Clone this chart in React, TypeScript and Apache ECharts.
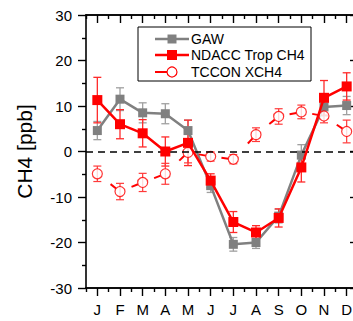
import React, { useEffect, useRef } from 'react';
import * as echarts from 'echarts';

const months = ['J', 'F', 'M', 'A', 'M', 'J', 'J', 'A', 'S', 'O', 'N', 'D'];
const yTicks = [-30, -20, -10, 0, 10, 20, 30];

const gaw = [4.6, 11.5, 8.5, 8.3, 4.6, -7.5, -20.4, -20.0, -14.2, -0.8, 9.8, 10.1];
const gawErr = [2.0, 2.5, 2.2, 2.2, 2.3, 1.5, 1.5, 1.3, 1.5, 2.3, 2.0, 2.0];

const ndacc = [11.3, 6.0, 4.0, 0.0, 1.9, -6.4, -15.5, -17.8, -14.6, -3.5, 11.8, 14.3];
const ndaccErr = [5.0, 3.2, 3.0, 3.2, 5.0, 1.5, 2.3, 1.5, 2.0, 3.2, 3.8, 3.0];

const tccon = [-4.9, -8.8, -6.8, -4.9, -0.2, -1.1, -1.7, 3.7, 7.7, 8.7, 7.8, 4.4];
const tcconErr = [1.7, 1.8, 2.0, 2.3, 2.3, 1.0, 1.0, 1.5, 1.7, 1.5, 1.5, 2.5];

const seriesNames = ['GAW', 'NDACC Trop CH4', 'TCCON XCH4'];

const FONT = "'Liberation Sans', Arial, Helvetica, sans-serif";
const GRAY = '#808080';
const RED = '#ff0000';

export default function App() {
  const ref = useRef<HTMLDivElement>(null);
  useEffect(() => {
    const chart = echarts.init(ref.current as HTMLDivElement, null, { renderer: 'svg' });

    const errSeries = (vals: number[], errs: number[], color: string, width: number, z: number) => ({
      type: 'custom',
      z,
      silent: true,
      xAxisIndex: 0,
      yAxisIndex: 0,
      data: vals.map((v, i) => [i, v, errs[i]]),
      renderItem: (params: any, api: any) => {
        const x = api.value(0);
        const y = api.value(1);
        const e = api.value(2);
        const t = api.coord([x, y + e]);
        const b = api.coord([x, y - e]);
        const hw = 4;
        const style = { stroke: color, lineWidth: width };
        return {
          type: 'group',
          children: [
            { type: 'line', shape: { x1: t[0], y1: t[1], x2: b[0], y2: b[1] }, style },
            { type: 'line', shape: { x1: t[0] - hw, y1: t[1], x2: t[0] + hw, y2: t[1] }, style },
            { type: 'line', shape: { x1: b[0] - hw, y1: b[1], x2: b[0] + hw, y2: b[1] }, style },
          ],
        };
      },
    });

    const tailSeries = {
      type: 'custom',
      z: 4,
      silent: true,
      xAxisIndex: 0,
      yAxisIndex: 0,
      data: tccon.slice(1).map((v, i) => [i + 1, v, tccon[i]]),
      renderItem: (params: any, api: any) => {
        const x = api.value(0);
        const p = api.coord([x, api.value(1)]);
        const q = api.coord([x - 1, api.value(2)]);
        const dx = q[0] - p[0];
        const dy = q[1] - p[1];
        const len = Math.sqrt(dx * dx + dy * dy) || 1;
        const ux = dx / len;
        const uy = dy / len;
        return {
          type: 'line',
          shape: { x1: p[0] + ux * 5, y1: p[1] + uy * 5, x2: p[0] + ux * 12, y2: p[1] + uy * 12 },
          style: { stroke: RED, lineWidth: 2 },
        };
      },
    };

    const axisLine = { show: true, onZero: false, lineStyle: { color: '#000', width: 1.6 } };
    const tickStyle = { color: '#000', width: 1.4 };

    const xBase = {
      type: 'category',
      data: months,
      boundaryGap: true,
      axisLine,
      splitLine: { show: false },
    };

    const legendY = [39, 55, 72];

    const option: any = {
      animation: false,
      textStyle: { fontFamily: FONT },
      grid: { left: 86, top: 15, width: 272, height: 273, containLabel: false },
      xAxis: [
        {
          ...xBase,
          position: 'bottom',
          axisTick: { show: true, alignWithLabel: true, inside: false, length: 8, interval: 0, lineStyle: tickStyle },
          axisLabel: { show: true, interval: 0, fontSize: 15, color: '#000', margin: 14, fontFamily: FONT },
        },
        {
          ...xBase,
          position: 'bottom',
          axisTick: { show: true, alignWithLabel: false, inside: false, length: 4, interval: 0, lineStyle: tickStyle },
          axisLabel: { show: false },
        },
        {
          ...xBase,
          position: 'top',
          axisTick: { show: true, alignWithLabel: true, inside: true, length: 8, interval: 0, lineStyle: tickStyle },
          axisLabel: { show: false },
        },
        {
          ...xBase,
          position: 'top',
          axisTick: { show: true, alignWithLabel: false, inside: true, length: 4, interval: 0, lineStyle: tickStyle },
          axisLabel: { show: false },
        },
      ],
      yAxis: [
        {
          type: 'value',
          position: 'left',
          min: yTicks[0],
          max: yTicks[yTicks.length - 1],
          interval: 10,
          axisLine,
          axisTick: { show: true, inside: false, length: 8, lineStyle: tickStyle },
          minorTick: { show: true, splitNumber: 2, length: 4, lineStyle: tickStyle },
          splitLine: { show: false },
          axisLabel: { show: true, fontSize: 15, color: '#000', margin: 14, fontFamily: FONT },
          name: 'CH4 [ppb]',
          nameLocation: 'middle',
          nameRotate: 90,
          nameGap: 51,
          nameTextStyle: { fontSize: 21, color: '#000', fontFamily: FONT },
        },
        {
          type: 'value',
          position: 'right',
          min: yTicks[0],
          max: yTicks[yTicks.length - 1],
          interval: 10,
          axisLine,
          axisTick: { show: true, inside: true, length: 8, lineStyle: tickStyle },
          minorTick: { show: true, splitNumber: 2, length: 4, lineStyle: tickStyle },
          splitLine: { show: false },
          axisLabel: { show: false },
        },
      ],
      series: [
        errSeries(gaw, gawErr, '#a0a0a0', 1.3, 2),
        errSeries(ndacc, ndaccErr, '#ff2a2a', 1.3, 2),
        errSeries(tccon, tcconErr, '#ff3a3a', 1.2, 2),
        {
          name: seriesNames[0],
          type: 'line',
          z: 3,
          data: gaw,
          symbol: 'rect',
          symbolSize: 9,
          itemStyle: { color: GRAY },
          lineStyle: { color: GRAY, width: 2.5 },
          markLine: {
            silent: true,
            symbol: ['none', 'none'],
            label: { show: false },
            lineStyle: { color: '#000', type: [7, 5], width: 1.5 },
            data: [{ yAxis: 0 }],
          },
        },
        {
          name: seriesNames[1],
          type: 'line',
          z: 5,
          data: ndacc,
          symbol: 'rect',
          symbolSize: 10,
          itemStyle: { color: RED },
          lineStyle: { color: RED, width: 2.5 },
        },
        tailSeries,
        {
          name: seriesNames[2],
          type: 'scatter',
          z: 4,
          data: tccon,
          symbol: 'circle',
          symbolSize: 10,
          itemStyle: { color: '#ffffff', borderColor: RED, borderWidth: 1.2 },
        },
      ],
      graphic: [
        {
          type: 'rect',
          z: 100,
          shape: { x: 138, y: 27, width: 173, height: 54 },
          style: { fill: '#fff', stroke: '#000', lineWidth: 1 },
        },
        { type: 'line', z: 101, shape: { x1: 155, y1: legendY[0], x2: 189, y2: legendY[0] }, style: { stroke: GRAY, lineWidth: 2.5 } },
        { type: 'rect', z: 102, shape: { x: 167.5, y: legendY[0] - 4.5, width: 9, height: 9 }, style: { fill: GRAY } },
        { type: 'line', z: 101, shape: { x1: 155, y1: legendY[1], x2: 189, y2: legendY[1] }, style: { stroke: RED, lineWidth: 2.5 } },
        { type: 'rect', z: 102, shape: { x: 167, y: legendY[1] - 5, width: 10, height: 10 }, style: { fill: RED } },
        { type: 'line', z: 101, shape: { x1: 155, y1: legendY[2], x2: 167, y2: legendY[2] }, style: { stroke: RED, lineWidth: 2 } },
        { type: 'circle', z: 102, shape: { cx: 172, cy: legendY[2], r: 5 }, style: { fill: '#fff', stroke: RED, lineWidth: 1.2 } },
        ...seriesNames.map((n, i) => ({
          type: 'text',
          z: 102,
          x: 191,
          y: legendY[i],
          style: { text: n, fontSize: 14, fill: '#000', fontFamily: FONT, verticalAlign: 'middle', align: 'left' },
        })),
      ],
    };

    chart.setOption(option);
    return () => chart.dispose();
  }, []);

  return (
    <div style={{ position: 'fixed', left: 0, top: 0, width: 353, height: 321, overflow: 'hidden', background: '#fff' }}>
      <div ref={ref} style={{ width: 366, height: 321 }} />
    </div>
  );
}
